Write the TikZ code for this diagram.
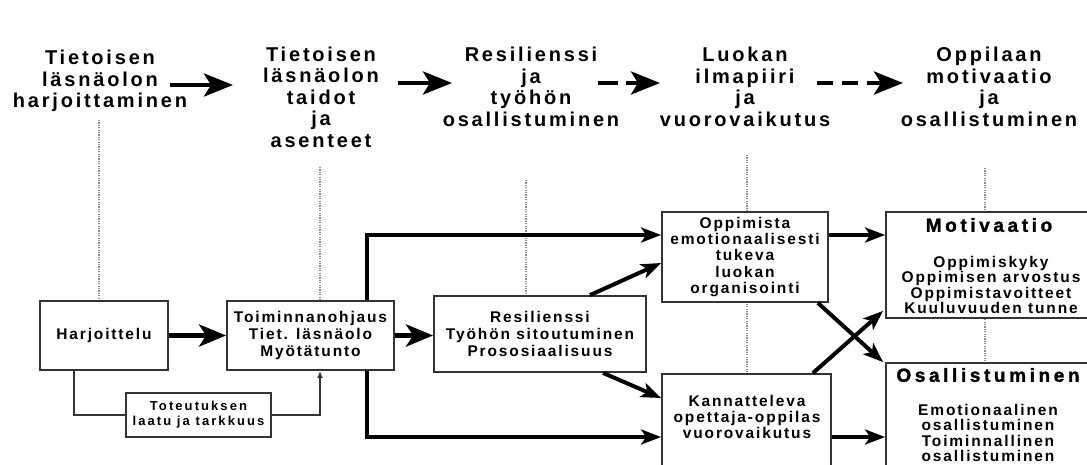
\documentclass[tikz,border=0pt]{standalone}
\usepackage{fontspec}
\setmainfont{Liberation Sans}
\newfontfamily\hfont{Liberation Sans Bold}[LetterSpace=14]
\newfontfamily\bfont{Liberation Sans Bold}[LetterSpace=12]
\newfontfamily\sfont{Liberation Sans Bold}[LetterSpace=16]
\newfontfamily\tfont{Liberation Sans Bold}[LetterSpace=19,FakeBold=1.5]
\usetikzlibrary{arrows.meta,calc}
\begin{document}
\begin{tikzpicture}[x=1pt,y=-1pt,
  box/.style={draw=black!80, line width=1.8pt, fill=white, inner sep=0pt, align=center,
    font=\bfont\fontsize{15.5}{16.8}\selectfont},
  txt/.style={inner sep=0pt, align=center, font=\bfont\fontsize{15.5}{16}\selectfont},
  small/.style={font=\sfont\fontsize{13}{15}\selectfont},
  hdr/.style={inner sep=0pt, align=center, font=\hfont\fontsize{20}{21.5}\selectfont},
  ttl/.style={inner sep=0pt, font=\tfont\fontsize{19}{20}\selectfont},
  harrow/.style={line width=4.5pt, -{Stealth[length=29pt,width=23pt,inset=7pt]}},
  big/.style={line width=5pt, -{Stealth[length=27pt,width=22pt,inset=7pt]}},
  med/.style={line width=4pt, -{Stealth[length=20pt,width=15pt,inset=5pt]}},
  fb/.style={draw=black!80, line width=1.8pt, -{Latex[length=7pt,width=6pt]}},
  guide/.style={draw=black!45, line width=1.1pt, dash pattern=on 1.2pt off 1.2pt}
]
\useasboundingbox (0,0) rectangle (1087,464);
\fill[white] (0,0) rectangle (1087,464);

% dotted guides
\draw[guide] (99,120) -- (99,301);
\draw[guide] (320,167) -- (320,301);
\draw[guide] (526,180) -- (526,296);
\draw[guide] (747,155) -- (747,374);
\draw[guide] (985,168) -- (985,363);

% headers
\node[hdr] (h1) at (100,81) {Tietoisen\\läsnäolon\\harjoittaminen};
\node[hdr] (h2) at (321,97) {Tietoisen\\läsnäolon\\taidot\\ja\\asenteet};
\node[hdr] (h3) at (531,87) {Resilienssi\\ja\\työhön\\osallistuminen};
\node[hdr] (h4) at (745,87) {Luokan\\ilmapiiri\\ja\\vuorovaikutus};
\node[hdr] (h5) at (989,87) {Oppilaan\\motivaatio\\ja\\osallistuminen};

\coordinate (a1s) at (170,85); \coordinate (a1e) at (233,85);
\coordinate (a2s) at (398,83); \coordinate (a2e) at (452,83);
\coordinate (a3s) at (598,83); \coordinate (a3e) at (660,83);
\coordinate (a4s) at (817,83); \coordinate (a4e) at (903,83);
\draw[harrow] (a1s) -- (a1e);
\draw[harrow] (a2s) -- (a2e);
\draw[harrow, dash pattern=on 20pt off 8pt] (a3s) -- (a3e);
\draw[harrow, dash pattern=on 16pt off 9pt] (a4s) -- (a4e);

% boxes
\node[box, minimum width=128pt, minimum height=69pt] (harj) at (104,335.5) {Harjoittelu};
\node[box, minimum width=167pt, minimum height=69pt] (toim) at (310.5,335.5)
  {Toiminnanohjaus\\Tiet. läsnäolo\\Myötätunto};
\node[box, small, minimum width=145pt, minimum height=44pt] (tot) at (198.5,415)
  {Toteutuksen\\laatu ja tarkkuus};
\node[box, minimum width=212pt, minimum height=76pt] (res) at (540,334)
  {Resilienssi\\Työhön sitoutuminen\\Prososiaalisuus};
\node[box, font=\bfont\fontsize{15.5}{16.2}\selectfont, minimum width=166pt, minimum height=90pt] (opp) at (745,257)
  {Oppimista\\emotionaalisesti\\tukeva\\luokan\\organisointi};
\node[box, minimum width=169pt, minimum height=110pt] (kan) at (746.5,429) {};
\node[txt] (kant) at (747,417) {Kannatteleva\\opettaja-oppilas\\vuorovaikutus};
\node[box, minimum width=220pt, minimum height=106pt] (mot) at (996,265) {};
\node[ttl] (mott) at (989,225) {Motivaatio};
\node[txt, font=\bfont\fontsize{15.5}{15.4}\selectfont] (motb) at (991,285)
  {Oppimiskyky\\Oppimisen arvostus\\Oppimistavoitteet\\Kuuluvuuden tunne};
\node[box, minimum width=220pt, minimum height=130pt] (osa) at (996,428) {};
\node[ttl] (osat) at (988,375) {Osallistuminen};
\node[txt, font=\bfont\fontsize{15.5}{15.3}\selectfont] (osab) at (988,433)
  {Emotionaalinen\\osallistuminen\\Toiminnallinen\\osallistuminen};

% connectors
\draw[big] (harj.east) -- (toim.west);
\draw[big] (toim.east) -- (toim.east -| res.west);
\draw[med] ([xshift=56.5pt]toim.north) |- (opp.west |- 0,235);
\draw[med] ([xshift=56.5pt]toim.south) |- (kan.west |- 0,437);
\draw[med] ([xshift=50pt]res.north) -- ([yshift=-6pt]opp.west);
\draw[med] ([xshift=63pt]res.south) -- (kan.west |- 0,398);
\draw[med] (opp.east |- 0,235) -- (mot.west |- 0,235);
\draw[med] (kan.east |- 0,437) -- (osa.west |- 0,437);
\draw[med] ([xshift=-11pt]opp.south east) -- ([xshift=-2pt]osa.north west);
\draw[med] ([xshift=-19pt]kan.north east) -- ([xshift=-2pt,yshift=8pt]mot.south west);
\draw[fb, -] ([xshift=-30pt]harj.south) |- (tot.west);
\draw[fb] (tot.east) -| ([xshift=9.5pt]toim.south);
\end{tikzpicture}
\end{document}
